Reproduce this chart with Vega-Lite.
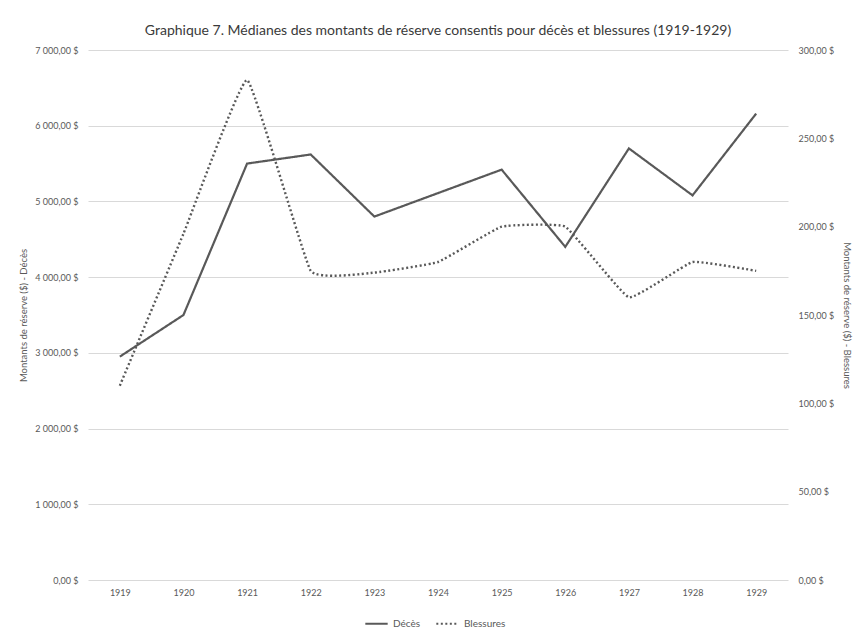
{
  "$schema": "https://vega.github.io/schema/vega-lite/v6.json",
  "width": 700,
  "height": 530,
  "autosize": {"type": "none"},
  "padding": {"left": 88, "top": 50, "right": 79, "bottom": 51},
  "background": "white",
  "config": {
    "locale": {"number": {"decimal": ",", "thousands": " ", "grouping": [3], "currency": ["", " $"]}},
    "font": "Lato",
    "view": {"stroke": null},
    "axis": {
      "labelColor": "#595959",
      "titleColor": "#595959",
      "labelFontSize": 9,
      "titleFontSize": 9.5,
      "titleFontWeight": "normal",
      "domain": false,
      "ticks": false
    }
  },
  "title": {
    "text": "Graphique 7. Médianes des montants de réserve consentis pour décès et blessures (1919-1929)",
    "fontSize": 14,
    "fontWeight": "normal",
    "color": "#3a3a3a",
    "anchor": "middle",
    "offset": 8
  },
  "data": {
    "values": [
      {"annee": "1919", "deces": 2950, "blessures": 110},
      {"annee": "1920", "deces": 3500, "blessures": 196},
      {"annee": "1921", "deces": 5500, "blessures": 283},
      {"annee": "1922", "deces": 5620, "blessures": 175},
      {"annee": "1923", "deces": 4800, "blessures": 174},
      {"annee": "1924", "deces": 5110, "blessures": 180},
      {"annee": "1925", "deces": 5420, "blessures": 200},
      {"annee": "1926", "deces": 4400, "blessures": 200},
      {"annee": "1927", "deces": 5700, "blessures": 160},
      {"annee": "1928", "deces": 5080, "blessures": 180},
      {"annee": "1929", "deces": 6160, "blessures": 175}
    ]
  },
  "encoding": {
    "x": {
      "field": "annee",
      "type": "ordinal",
      "scale": {"type": "point", "padding": 0.5},
      "axis": {"title": null, "labelAngle": 0, "labelPadding": 8}
    }
  },
  "layer": [
    {
      "mark": {"type": "line", "interpolate": "linear", "color": "#595959", "strokeWidth": 2.2},
      "encoding": {
        "y": {
          "field": "deces",
          "type": "quantitative",
          "scale": {"domain": [0, 7000]},
          "axis": {
            "title": "Montants de réserve ($) - Décès",
            "values": [0, 1000, 2000, 3000, 4000, 5000, 6000, 7000],
            "format": "$,.2f",
            "labelPadding": 10,
            "titlePadding": 6,
            "gridColor": "#d9d9d9",
            "gridWidth": 1
          }
        },
        "strokeDash": {
          "datum": "Décès",
          "type": "nominal",
          "scale": {"domain": ["Décès", "Blessures"], "range": [[1, 0], [2, 2.5]]},
          "legend": {
            "title": null,
            "orient": "none",
            "legendX": 276,
            "legendY": 561,
            "direction": "horizontal",
            "symbolType": "stroke",
            "symbolStrokeColor": "#595959",
            "symbolStrokeWidth": 2.2,
            "symbolSize": 500,
            "labelFontSize": 10,
            "labelColor": "#595959",
            "columnPadding": 10
          }
        }
      }
    },
    {
      "mark": {"type": "line", "interpolate": "cardinal", "tension": 0.7, "color": "#595959", "strokeWidth": 2.4},
      "encoding": {
        "y": {
          "field": "blessures",
          "type": "quantitative",
          "scale": {"domain": [0, 300]},
          "axis": {
            "orient": "right",
            "title": "Montants de réserve ($) - Blessures",
            "values": [0, 50, 100, 150, 200, 250, 300],
            "format": "$,.2f",
            "grid": false,
            "labelPadding": 10,
            "titlePadding": 8
          }
        },
        "strokeDash": {"datum": "Blessures", "type": "nominal"}
      }
    }
  ],
  "resolve": {"scale": {"y": "independent"}}
}
